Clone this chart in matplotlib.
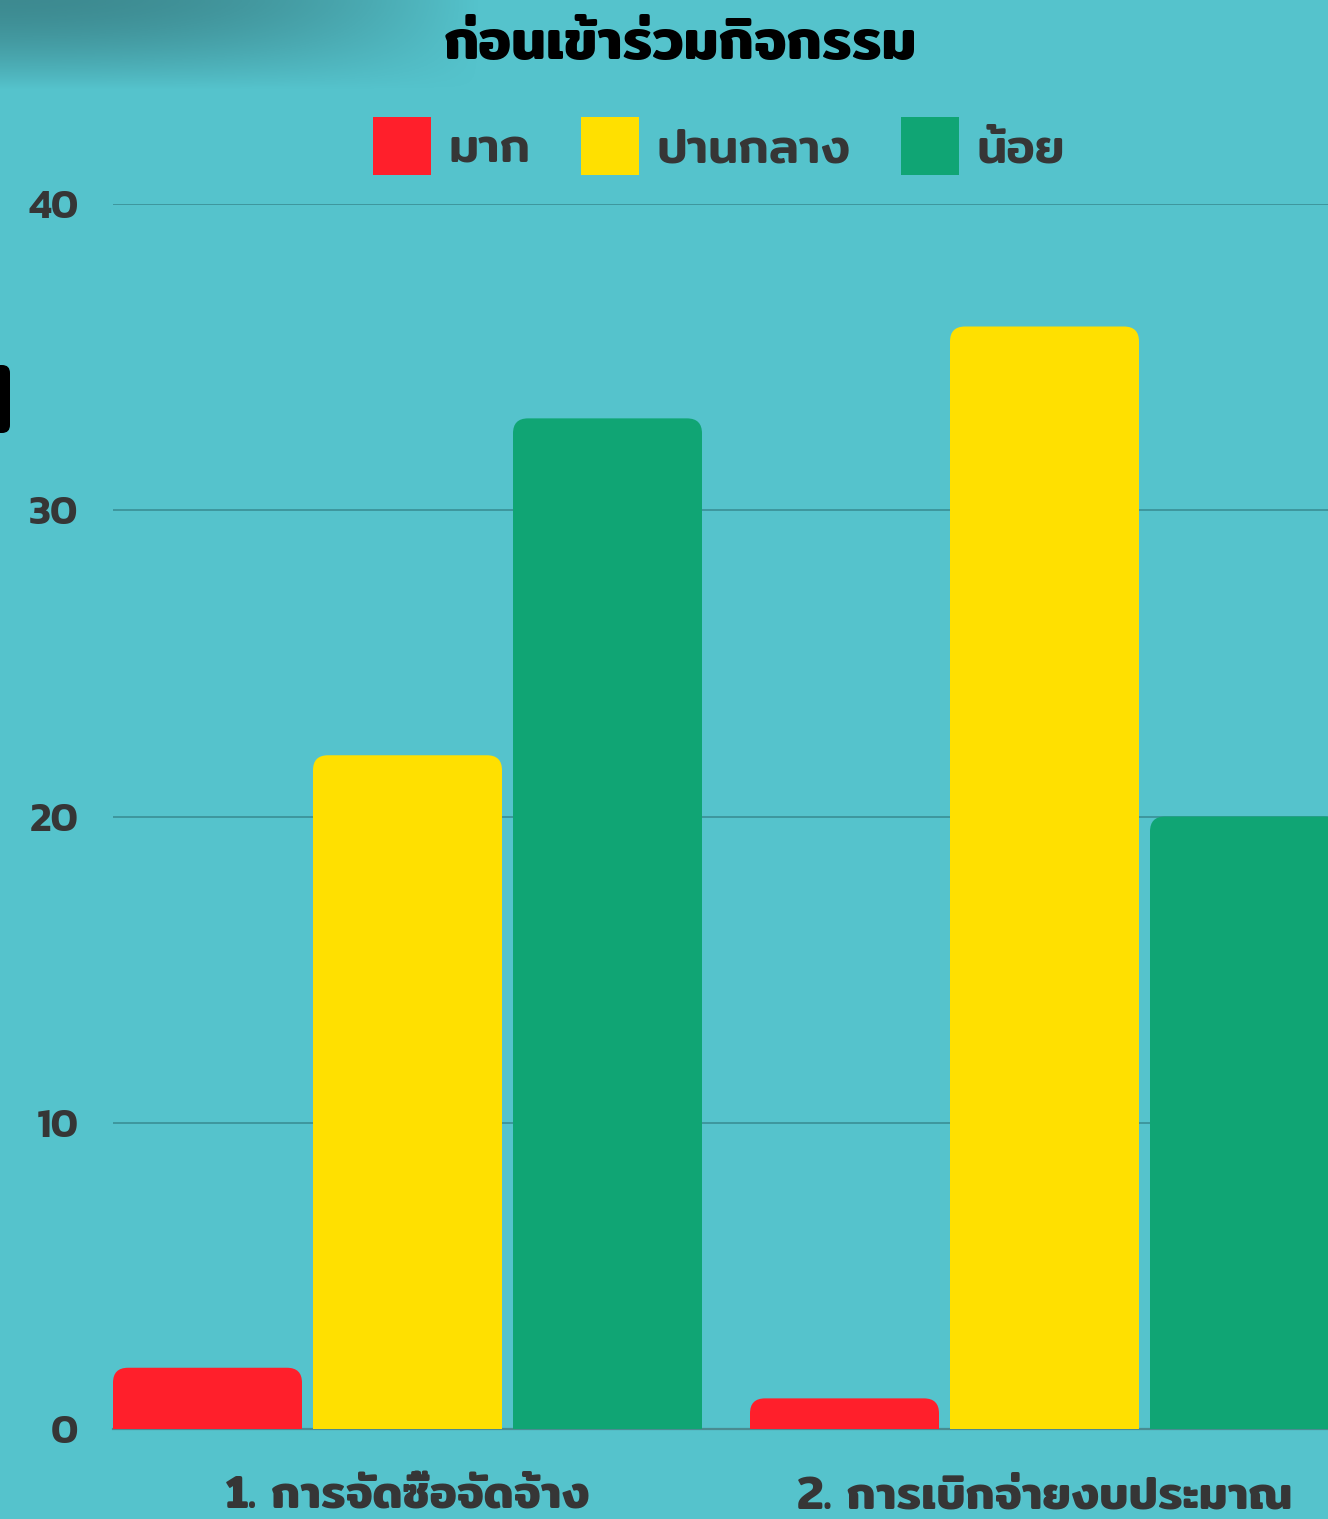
import matplotlib
matplotlib.use("Agg")
import numpy as np
import matplotlib.pyplot as plt
from matplotlib.patches import FancyBboxPatch, Rectangle

# ---- data ----
categories = ["1. การจัดซื้อจัดจ้าง", "2. การเบิกจ่ายงบประมาณ"]
series_names = ["มาก", "ปานกลาง", "น้อย"]
values_mak = [2, 1]
values_panklang = [22, 36]
values_noi = [33, 20]
y_ticks = [0, 10, 20, 30, 40]
title = "ก่อนเข้าร่วมกิจกรรม"

colors = ["#FF1F2B", "#FFE000", "#10A574"]
bg = "#55C3CC"
text_dark = "#363636"

W, H = 1328, 1519
fig = plt.figure(figsize=(W / 100, H / 100), dpi=100, facecolor=bg)

# axes: left edge at px 113, baseline at px 1429, 40 at px 204
ax_left = 113 / W
ax_bottom = (H - 1429) / H
ax_h = (1429 - 204) / H
ax_w = (W - 113) / W
ax = fig.add_axes([ax_left, ax_bottom, ax_w, ax_h])
ax.set_facecolor(bg)

group_px = 637.0
x0 = -(407.5 - 113) / group_px
x1 = (W - 407.5) / group_px
ax.set_xlim(x0, x1)
ax.set_ylim(0, 40)

bar_w = 189 / group_px
step = 200 / group_px
x = np.arange(len(categories))
series = [values_mak, values_panklang, values_noi]
offsets = [-step, 0, step]

# rounded-top bars: draw with ax.bar, then replace each rectangle by a rounded patch
r_px = 15
xr = r_px / group_px                 # rounding in x data units
px_per_y = (1429 - 204) / 40
yr = r_px / px_per_y                 # rounding in y data units
handles = []
for vals, off, col, name in zip(series, offsets, colors, series_names):
    bars = ax.bar(x + off, vals, width=bar_w, color=col, label=name, zorder=3)
    handles.append(bars)
    for rect in bars.patches:
        bx, by = rect.get_x(), rect.get_y()
        bw, bh = rect.get_width(), rect.get_height()
        rect.set_visible(False)
        p = FancyBboxPatch((bx, by), bw, bh,
                           boxstyle=f"round,pad=0,rounding_size={xr}",
                           mutation_aspect=yr / xr,
                           facecolor=col, edgecolor="none", zorder=3)
        ax.add_patch(p)
        ax.add_patch(Rectangle((bx, by), bw, min(bh, yr * 1.05),
                               facecolor=col, edgecolor="none", zorder=3))

# grid and axis styling
ax.set_yticks(y_ticks)
ax.yaxis.grid(True, color="#3E969D", linewidth=1.4, zorder=0)
ax.set_axisbelow(True)
for s in ["top", "right", "left"]:
    ax.spines[s].set_visible(False)
ax.spines["bottom"].set_color("#4A8B91")
ax.spines["bottom"].set_linewidth(1.6)
ax.spines["bottom"].set_zorder(2)
ax.tick_params(axis="y", length=0, pad=25)
ax.tick_params(axis="x", length=0, pad=34)
ax.set_xticks(x)
ax.set_xticklabels(categories)
for lab in ax.get_yticklabels():
    lab.set_fontfamily("Kanit")
    lab.set_fontweight("semibold")
    lab.set_fontsize(30)
    lab.set_color(text_dark)
for lab in ax.get_xticklabels():
    lab.set_fontfamily("Mitr")
    lab.set_fontweight("semibold")
    lab.set_fontsize(33)
    lab.set_color(text_dark)

# title
fig.text(680 / W, 1 - 46 / H, title, ha="center", va="center",
         fontfamily="Mitr", fontweight="semibold", fontsize=40, color="black")

# legend
leg = fig.legend(handles=[h.patches[0] for h in handles], labels=series_names,
                 loc="center", bbox_to_anchor=(719 / W, 1 - 146 / H),
                 ncol=3, frameon=False, handlelength=1.19, handleheight=1.46,
                 handletextpad=0.37, columnspacing=1.03,
                 prop={"family": "Mitr", "weight": "medium", "size": 35})
for t in leg.get_texts():
    t.set_color(text_dark)
for lh, col in zip(leg.legend_handles, colors):
    lh.set_visible(True)
    lh.set_facecolor(col)

# soft dark shading along the top-left
grad_ax = fig.add_axes([0, 1 - 90 / H, 480 / W, 90 / H], zorder=-1)
gx = np.linspace(0, 1, 300)
gy = np.linspace(0, 1, 60)
GX, GY = np.meshgrid(gx, gy)
alpha = np.clip(1 - GX ** 2.2, 0, 1) * np.clip(1 - GY ** 1.6, 0, 1) * 0.7
rgba = np.zeros((60, 300, 4))
rgba[..., 0] = 0.20
rgba[..., 1] = 0.45
rgba[..., 2] = 0.47
rgba[..., 3] = alpha
grad_ax.imshow(rgba, aspect="auto", extent=(0, 1, 0, 1), origin="upper")
grad_ax.axis("off")

# dark rounded mark at the left edge
fig.patches.append(FancyBboxPatch((-12 / W, 1 - 433 / H), 22 / W, 68 / H,
                                  boxstyle="round,pad=0,rounding_size=0.006",
                                  transform=fig.transFigure, facecolor="black",
                                  edgecolor="none", mutation_aspect=W / H))

fig.savefig("out.png", dpi=100, facecolor=bg)
